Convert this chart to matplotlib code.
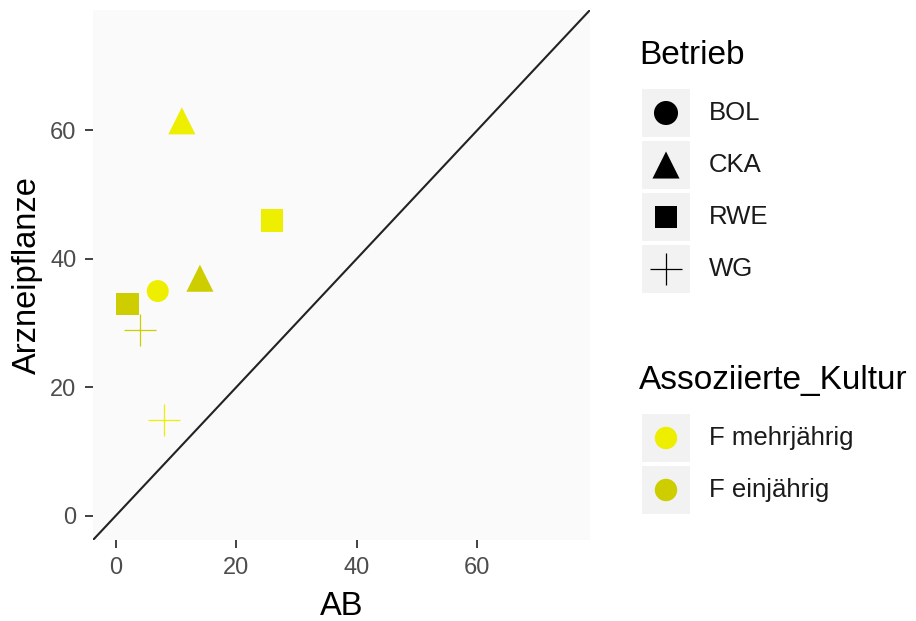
import matplotlib.pyplot as plt
from matplotlib.patches import Rectangle

plt.rcParams['font.family'] = ['Liberation Sans', 'DejaVu Sans']

# Werte je Betrieb
betrieb = ['CKA', 'RWE', 'CKA', 'BOL', 'RWE', 'WG', 'WG']
kultur = ['F mehrjährig', 'F mehrjährig', 'F einjährig', 'F mehrjährig',
          'F einjährig', 'F einjährig', 'F mehrjährig']
ab = [11, 26, 14, 7, 2, 4, 8]
arznei = [61.5, 46, 37, 35, 33, 29, 15]

betriebe = ['BOL', 'CKA', 'RWE', 'WG']
kulturen = ['F mehrjährig', 'F einjährig']
markers = {'BOL': 'o', 'CKA': '^', 'RWE': 's', 'WG': '+'}
sizes = {'BOL': 250, 'CKA': 380, 'RWE': 260, 'WG': 560}
colors = {'F mehrjährig': '#EEEE00', 'F einjährig': '#CDCD00'}

fig = plt.figure(figsize=(9.16, 6.21), dpi=100)
ax = fig.add_axes([93 / 916, 81 / 621, 497 / 916, 530 / 621])
ax.set_facecolor('#FAFAFA')
for s in ax.spines.values():
    s.set_visible(False)

lim = (-3.75, 78.75)
ax.plot(lim, lim, color='#222222', lw=1.5, zorder=1)

for x, y, b, k in zip(ab, arznei, betrieb, kultur):
    if markers[b] == '+':
        ax.scatter(x, y, marker='+', s=sizes[b], color=colors[k], linewidths=0.9, zorder=3)
    else:
        ax.scatter(x, y, marker=markers[b], s=sizes[b], color=colors[k],
                   edgecolors='none', zorder=3)

ax.set_xlim(lim)
ax.set_ylim(lim)
ticks = [0, 20, 40, 60]
ax.set_xticks(ticks)
ax.set_yticks(ticks)
ax.tick_params(colors='#333333', labelcolor='#4D4D4D', labelsize=17,
               length=6, width=1.3, pad=6)
ax.set_xlabel('AB', fontsize=23.5, color='black', labelpad=9)
ax.set_ylabel('Arzneipflanze', fontsize=23.5, color='black', labelpad=5)

# Legenden rechts vom Plot
lax = fig.add_axes([0, 0, 1, 1])
lax.set_xlim(0, 916)
lax.set_ylim(621, 0)
lax.axis('off')

def legend_block(title, title_y, labels, first_y, handles):
    lax.text(639, title_y, title, fontsize=24, va='center', ha='left')
    for i, lab in enumerate(labels):
        cy = first_y + i * 52
        lax.add_patch(Rectangle((641, cy - 25), 50, 50, facecolor='#F2F2F2',
                                edgecolor='white', lw=1.5))
        m, c, s = handles[i]
        if m == '+':
            lax.scatter(666, cy, marker='+', s=s, color=c, linewidths=0.9)
        else:
            lax.scatter(666, cy, marker=m, s=s, color=c, edgecolors='none')
        lax.text(709, cy, lab, fontsize=18.5, va='center', ha='left', color='#1A1A1A')

legend_block('Betrieb', 55, betriebe, 113,
             [('o', 'black', 300), ('^', 'black', 380), ('s', 'black', 270), ('+', 'black', 560)])
legend_block('Assoziierte_Kultur', 381, kulturen, 438,
             [('o', colors[k], 260) for k in kulturen])

fig.savefig('out.png', dpi=100)
